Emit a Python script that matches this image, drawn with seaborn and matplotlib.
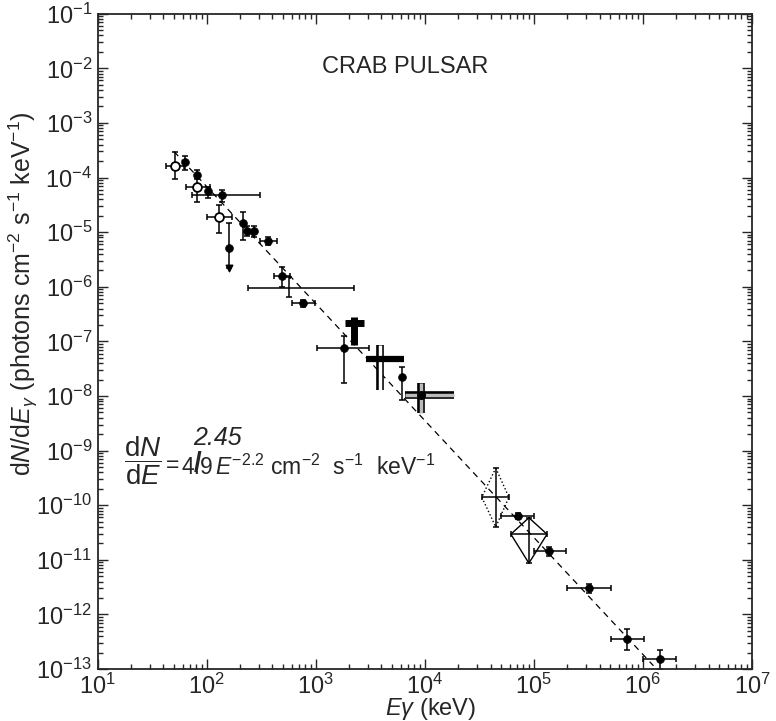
import numpy as np
import pandas as pd
import seaborn as sns
import matplotlib.pyplot as plt
from matplotlib.ticker import LogLocator, LogFormatterSciNotation, NullFormatter

# filled circles: energy (keV), flux, and error-bar ends
fill_E = [62.8, 81, 102, 137, 214, 233, 269, 363, 489, 758, 1820, 6170,
          7.09e4, 1.38e5, 3.2e5, 7.1e5, 1.42e6]
fill_F = [1.95e-4, 1.12e-4, 5.7e-5, 4.8e-5, 1.48e-5, 1.06e-5, 1.06e-5, 6.9e-6,
          1.58e-6, 5.0e-7, 7.6e-8, 2.24e-8, 6.3e-11, 1.44e-11, 3.0e-12, 3.5e-13, 1.5e-13]
fill_Elo = [62.8, 81, 102, 72.8, 214, 233, 269, 306, 412, 600, 1020, 6170,
            4.98e4, 1.0e5, 2.0e5, 5.08e5, 1.0e6]
fill_Ehi = [62.8, 81, 102, 306, 214, 233, 269, 438, 575, 980, 3060, 6170,
            1.0e5, 1.97e5, 5.08e5, 1.02e6, 2.0e6]
fill_Flo = [1.38e-4, 0.95e-4, 4.3e-5, 3.5e-5, 7.2e-6, 8.5e-6, 8.3e-6, 5.8e-6,
            1.0e-6, 4.3e-7, 1.74e-8, 8.5e-9, 5.5e-11, 1.2e-11, 2.5e-12, 2.2e-13, 1.0e-13]
fill_Fhi = [2.5e-4, 1.35e-4, 6.8e-5, 6.0e-5, 2.34e-5, 1.3e-5, 1.3e-5, 8.2e-6,
            2.3e-6, 5.8e-7, 1.26e-7, 3.4e-8, 7.2e-11, 1.75e-11, 3.6e-12, 5.4e-13, 2.2e-13]

# open circles
open_E = [50.8, 81, 129]
open_F = [1.66e-4, 6.7e-5, 1.9e-5]
open_Elo = [42, 64, 100]
open_Ehi = [61.5, 107, 169]
open_Flo = [9.5e-5, 3.6e-5, 9.8e-6]
open_Fhi = [2.95e-4, 1.12e-4, 3.2e-5]

# upper limit
lim_E = [159]
lim_F = [5.1e-6]
lim_Flo = [2.2e-6]
lim_Fhi = [1.48e-5]

# error bars with no marker
bar_E = [565]
bar_F = [9.6e-7]
bar_Elo = [238]
bar_Ehi = [2240]
bar_Flo = [6.6e-7]
bar_Fhi = [1.5e-6]

# thick solid cross
thick_E = [2240]
thick_F = [2.2e-7]
thick_Elo = [1845]
thick_Ehi = [2760]
thick_Flo = [8.7e-8]
thick_Fhi = [2.8e-7]

# thick horizontal with outlined vertical
mix_E = [3860]
mix_F = [4.8e-8]
mix_Elo = [2880]
mix_Ehi = [6410]
mix_Flo = [1.3e-8]
mix_Fhi = [8.7e-8]

# outlined cross
box_E = [9130]
box_F = [1.05e-8]
box_Elo = [6560]
box_Ehi = [18450]
box_Flo = [4.9e-9]
box_Fhi = [1.74e-8]

# diamonds
dia_E = [4.47e4, 9.0e4]
dia_F = [1.4e-10, 2.95e-11]
dia_Elo = [3.33e4, 6.15e4]
dia_Ehi = [5.9e4, 1.32e5]
dia_Flo = [4.0e-11, 8.7e-12]
dia_Fhi = [4.8e-10, 5.9e-11]

# power-law fit line ends
fit_E = [50, 1.25e6]
fit_F = [3.0e-4, 1.15e-13]

sns.set_style("ticks")
plt.rcParams['font.family'] = ['Liberation Sans', 'DejaVu Sans']
plt.rcParams['mathtext.fontset'] = 'custom'
plt.rcParams['mathtext.rm'] = 'Liberation Sans'
plt.rcParams['mathtext.it'] = 'Liberation Sans:italic'
plt.rcParams['mathtext.bf'] = 'Liberation Sans:bold'


def xy_err(E, F, Elo, Ehi, Flo, Fhi):
    E, F = np.array(E), np.array(F)
    xerr = [E - np.array(Elo), np.array(Ehi) - E]
    yerr = [F - np.array(Flo), np.array(Fhi) - F]
    return E, F, xerr, yerr


fig = plt.figure(figsize=(7.76, 7.21), dpi=100)
ax = fig.add_axes([0.126, 0.072, 0.843, 0.909])

# fit line
fit = pd.DataFrame({'E': fit_E, 'F': fit_F})
sns.lineplot(data=fit, x='E', y='F', ax=ax, color='black', lw=0.9,
             linestyle=(0, (5, 4)))

eb = dict(fmt='none', ecolor='black', elinewidth=1.1, capsize=2, capthick=1.1)

E, F, xe, ye = xy_err(fill_E, fill_F, fill_Elo, fill_Ehi, fill_Flo, fill_Fhi)
ax.errorbar(E, F, xerr=xe, yerr=ye, **eb)
E, F, xe, ye = xy_err(open_E, open_F, open_Elo, open_Ehi, open_Flo, open_Fhi)
ax.errorbar(E, F, xerr=xe, yerr=ye, **eb)
E, F, xe, ye = xy_err(bar_E, bar_F, bar_Elo, bar_Ehi, bar_Flo, bar_Fhi)
ax.errorbar(E, F, xerr=xe, yerr=ye, **eb)
E, F, xe, ye = xy_err(lim_E, lim_F, lim_E, lim_E, lim_Flo, lim_Fhi)
ax.errorbar(E, F, yerr=ye, **eb)
ax.scatter(lim_E, lim_Flo, marker='v', s=22, color='black', zorder=3)

# thick solid cross
E, F, xe, ye = xy_err(thick_E, thick_F, thick_Elo, thick_Ehi, thick_Flo, thick_Fhi)
ax.errorbar(E, F, xerr=xe, yerr=ye, fmt='none', ecolor='black', elinewidth=5)

# thick horizontal, outlined vertical
E, F, xe, ye = xy_err(mix_E, mix_F, mix_Elo, mix_Ehi, mix_Flo, mix_Fhi)
ax.errorbar(E, F, yerr=ye, fmt='none', ecolor='black', elinewidth=5.5)
ax.errorbar(E, F, yerr=ye, fmt='none', ecolor='white', elinewidth=2.5)
ax.errorbar(E, F, xerr=xe, fmt='none', ecolor='black', elinewidth=4.5)

# outlined cross
E, F, xe, ye = xy_err(box_E, box_F, box_Elo, box_Ehi, box_Flo, box_Fhi)
ax.errorbar(E, F, xerr=xe, yerr=ye, fmt='none', ecolor='black', elinewidth=5.5)
ax.errorbar(E, F, xerr=xe, yerr=ye, fmt='none', ecolor='#bbbbbb', elinewidth=2.5)
ax.scatter(box_E, box_F, s=30, color='black', zorder=4)

# diamonds
for i in range(len(dia_E)):
    ls = ':' if i == 0 else '-'
    ax.plot([dia_E[i], dia_Ehi[i], dia_E[i], dia_Elo[i], dia_E[i]],
            [dia_Fhi[i], dia_F[i], dia_Flo[i], dia_F[i], dia_Fhi[i]],
            color='black', lw=1.0, ls=ls)
E, F, xe, ye = xy_err(dia_E, dia_F, dia_Elo, dia_Ehi, dia_Flo, dia_Fhi)
ax.errorbar(E, F, xerr=xe, yerr=ye, **eb)

# markers
pts = pd.DataFrame({'E': fill_E, 'F': fill_F})
sns.scatterplot(data=pts, x='E', y='F', ax=ax, color='black', s=32,
                edgecolor='black', zorder=4)
opn = pd.DataFrame({'E': open_E, 'F': open_F})
sns.scatterplot(data=opn, x='E', y='F', ax=ax, facecolor='white', s=40,
                edgecolor='black', linewidth=1.3, zorder=4)
sns.scatterplot(x=lim_E, y=lim_F, ax=ax, color='black', s=32, edgecolor='black', zorder=4)

ax.set_xscale('log')
ax.set_yscale('log')
ax.set_xlim(1e1, 1e7)
ax.set_ylim(1e-13, 1e-1)

ax.xaxis.set_major_locator(LogLocator(base=10, numticks=20))
ax.yaxis.set_major_locator(LogLocator(base=10, numticks=20))
ax.xaxis.set_minor_locator(LogLocator(base=10, subs=np.arange(2, 10), numticks=100))
ax.yaxis.set_minor_locator(LogLocator(base=10, subs=np.arange(2, 10), numticks=100))
ax.xaxis.set_minor_formatter(NullFormatter())
ax.yaxis.set_minor_formatter(NullFormatter())
ax.xaxis.set_major_formatter(LogFormatterSciNotation())
ax.yaxis.set_major_formatter(LogFormatterSciNotation())
ax.tick_params(which='both', direction='in', top=True, right=True, width=1.0)
ax.tick_params(which='major', length=7, labelsize=17)
ax.tick_params(axis='x', which='major', pad=3)
ax.tick_params(axis='y', which='major', pad=4)
ax.tick_params(which='minor', length=3.5)
for s in ax.spines.values():
    s.set_linewidth(1.3)

ax.set_xlabel(r'$E\gamma$ (keV)', fontsize=17)
ax.xaxis.set_label_coords(0.509, -0.041)
ax.set_ylabel(r'd$N$/d$E_\gamma$ (photons cm$^{-2}$ s$^{-1}$ keV$^{-1}$)',
              fontsize=18)
ax.yaxis.set_label_coords(-0.088, 0.573)

ax.text(0.47, 0.918, 'CRAB PULSAR', transform=ax.transAxes, fontsize=17,
        ha='center', va='center')

# formula: dN/dE = 4.9 E^-2.2 ..., with 4.9 struck and 2.45 written above
ax.text(0.068, 0.318, r'$\dfrac{\mathrm{d}N}{\mathrm{d}E}$', transform=ax.transAxes,
        fontsize=20, ha='center', va='center')
ax.text(0.115, 0.311, '=', transform=ax.transAxes, fontsize=16.5,
        ha='center', va='center')
ax.text(0.128, 0.297, '4.9', transform=ax.transAxes, fontsize=16.5,
        ha='left', va='baseline')
ax.text(0.179, 0.297, r'$E^{-2.2}$ cm$^{-2}$  s$^{-1}$  keV$^{-1}$',
        transform=ax.transAxes, fontsize=16.5, ha='left', va='baseline')
ax.text(0.153, 0.313, '/', transform=ax.transAxes, fontsize=20,
        fontweight='bold', ha='center', va='center')
ax.text(0.183, 0.353, '2.45', transform=ax.transAxes, fontsize=18,
        fontstyle='italic', ha='center', va='center')

fig.savefig('out.png', dpi=100)
